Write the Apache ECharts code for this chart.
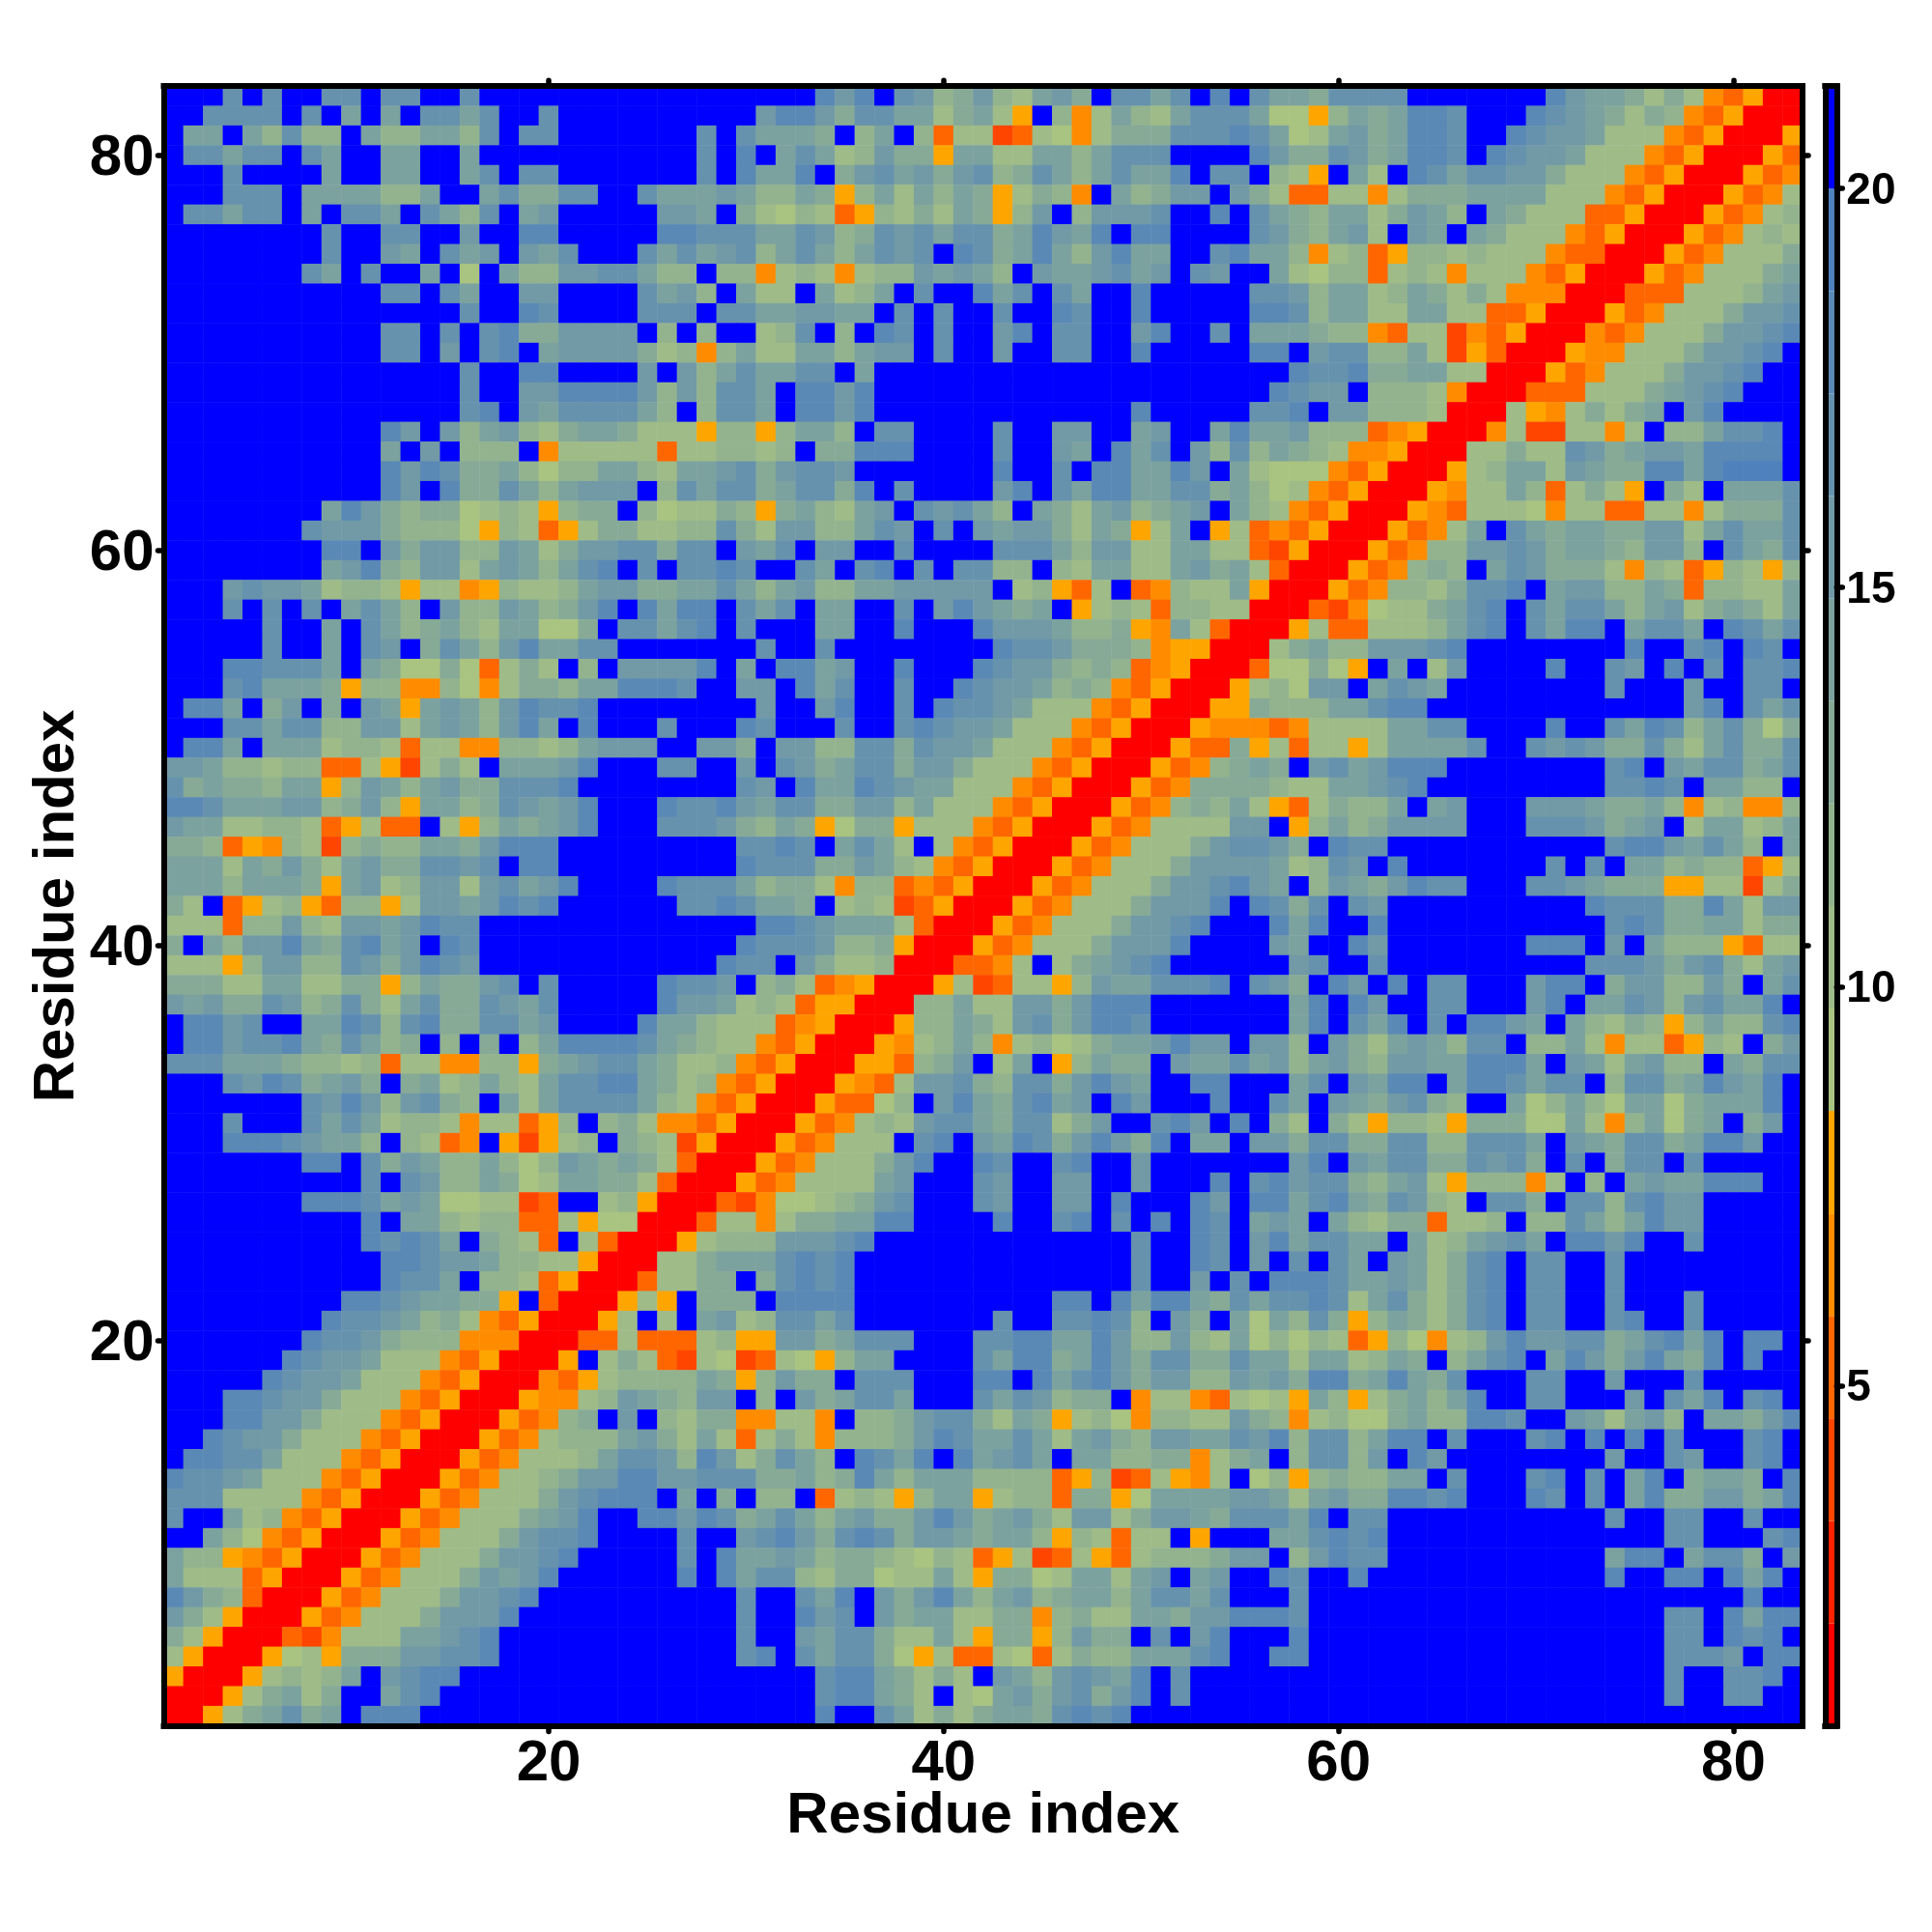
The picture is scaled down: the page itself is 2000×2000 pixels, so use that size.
<!DOCTYPE html>
<html><head><meta charset="utf-8">
<style>html,body{margin:0;padding:0;background:#fff}#c{width:2000px;height:2000px}</style>
<script src="https://cdn.jsdelivr.net/npm/echarts@6/dist/echarts.min.js"></script>
</head><body><div id="c"></div>
<script>
// Cell readings per row, top row (residue 83) first. Letter = colour band, a number repeats the letter.
const rowsLeft = ["BBBgBgBBggBggBBgB12","BBggggBgBeBeBggegBBgB8","BeeBecgccBecceecgBggB7g","BggeggBgeBBeeBBeB11g","BBBgBBBBeBBeeBBegBggB7g","BBBgggBeeeecceBBegddggBBgeee","BggeggBeBggeBgecgBefB5ffe","B8gBBggBBfBBhhB5hhg","B8gBBfeBgefBfegBBBgege","B7geBgBBeBaBeccffggeccB","B11ggBgeBBffBBBBgefc","B15gBBhgBBBBgggB","B11ggBgBghddffffBcBc","B11ggBfBghBeffffdbcn","B15gBBhhBBBBfBfc","B15gBBffhhhhfcfc","B15ghBfeggggecBc","B11hfBfcefcbdeedbbby","B11eBfBcccBnbbbbbobb","B11hfhgddecacceecbee","B11hfBhddgecefffBcge","B8ehfdcddabcbycddBcabb","B7gfffdcccaycboybddbbcc","B8hhBfdffccfebdffggdgg","B8efhdcffbefeceghBgBgg","BBBfgffebccbybbnycbbceffddee","BBBgBgBgBegecBfccfecdfhBhehh","BBBBBgBBeBgecdecbeeaadBggegh","BBBBBgBBeBgfBdgecfheeggBBBBB","BBBhhgggeBedaadaobdbBcBffffh","BBBgheeedyccnncanbddceehhhgB","BhheBdfBdBfeyefecfhgghBBBBBB","BBBggeggccffbefecfheBhBBBgBB","BhheBeeebccbobbnnccbcefffBBf","ffeccbccoobytbdbBeeefhBBBggB","gdeddceeycfecefddggghB7","hhgeeeffcdfcyeecdgfefhBBBhgg","feebbccboybooBbycedefhBBBggg","ddcoyncbtcdcceedfhhhB8","eeebedfdbefddggfgBhhB8","eeeceeedyefbcffbfgefhBBBBhgg","dbBoybcyoccybffefhghB6gg","bbboccfcbffefhggB12","dBecffhedghefBhgB12","bbbycffccgfdfhgfB12","dddbbeebbddyceddfgBgB5hgg","fefddgfcdgdbegddgfegB5hff","BhhfgBBeehgcghddggefBBBBheec","BhhfgghedgecdBcBdBcehhhhgedc","gggeeedccbcobbnnccydefggedbb","BBBgfhgdefdBdebcecbegghhedbc","B7gfhfcfgdcBebeggggecbn","BBBgBBBgegebccbnbboycBcdbnno","BBBhhhgfeecBcbonBytybcBdcbty","B7hhBgdfeccecacfededboR","B10gBgfccedabeeddboRR","B7hhhgefeaabbtoBBbcyRRR","B10hBeecbccoobyaaRRRo","B10hghgeBdcboBboRRRyb","B11hhgffeccbbyRRRbbd","B11hggeBccboyRRRobbd","B9hhgfeeddyBoRRRybyBd","B8hggfecdbnoyRRRybBbBe","B7hggfdcccnnnRRRoobooob","B6hgffebbbnoyRRRyBbdbotb","B5hgffebbbnoyRRRnoybcccce","BBBhhgffdbbbnoyRRRynnbcfedcf","BBBhhffdbbbnoyRRRyoncdBfBcbd","BBhgffdbbbnoyRRRyonbcccefdbe","BhhggebbbnoyRRRyonbbbceggfch","hggfebbbnoyRRRyonbbcdffhhffg","gggbbbbnoyRRRyonbbbdfghhhBeB","gBBebcnoyRRRyonbbbdefhBBhhfh","BBecanoyRRRyonbbbdfgghBBBBgB","eccynoyRRRyonbbbdffghBBBBBgB","ebbboyRRRyonbbbdfefhB6hB","hfdcoRRRyonbbbdffghB9","fdbyRRRyonbbbdfffhB10","dbyRRRotnbbbeefghB11","byRRRyabydddffgghB11","yRRRybcbceBfghhB13","RRRybdebdBBeghB14","RRybdegdeBhhhB15"];
const rowsMiddle = ["BBBBBhfhBgfcdfcbefdBggegBhBg","BBfhhfdggeebdebyBcnbecbeggge","BgeeedBceBcobbtobanbdddggghg","BhBegebcfddyeebbeecegggBBBBh","BheehBdfgefdfgcdgecegeehBggB","feccedycebecedybdcnBecdffBfd","BdbacboycbdbedycfBcfffgBBhBg","ggeegfcdgfgeggdehfehBhhBBBBg","fgcegecegfgBhgdehecfheeBBghe","ccnbcbnbccfefecBfeefgefBgfBB","BebbBebceBgBBhegBgeBBhB5g","ggeeffeeBgBgBBgBBhgBBhB5h","BBbcgBcBhgBgBBfhBggBBfhBBgBe","cebbeeceffBgBBfBBggBBhB5h","egeeggBeB20","ggeBhhfhB20","ggeBhhfhB13hB5g","ccyceecBggBBBBgBBffBBefBBehe","ccbcBddhhhBBBBgBBfeBhegBfcgc","fgdfggfB7hBBgBhheehfBeb","ggdeggdhBgBBBBfhBgehheeggdec","dcydecbefBgfgecBedbefcdefBec","gdbffccegfBgBfeffdbedybeBybo","BfegBffBBgBBBBgggecffbbeebbo","hgBBgeBghBgBggccBcbeebbefdeb","gecefcceefffffBbcyobBoncbbey","BgegBeeBBgBfhfedeBybcboccbbR","BgBBBeeBBhBBBhfffeccdyneboRR","BBgBBgB8hggfdddcnyyRRR","BeBhhefBBhBBBhgffdcdconyRRRo","BffBhegBBgBBhgffecdcnoyRRRyb","BBfBBfhBBgBhggfebbbnoyRRRyyd","BhgBBBgBBghgffebbbnoyRRRynnn","fdBffccggdgffebbbnoyRRRyoody","BfBgfdeggdffdbbbnoyRRRyoncde","BgfBheehgfeebbbnoyRRRyondddd","hfeggddffcebbbnoyRRRyoncdceb","fdcedyaddybbbnoyRRRyonbbbbff","BgghgBegebBbnoyRRRyonbbbdfgg","BhgggddfecbnoyRRRyonbbbdffff","gecddbncconoyRRRyonbbbdffghf","hgeedBbcbtoyRRRyonbbbdfffhBh","BBhhgfeeeboRRRyonbbbdffghBBB","BhgggfccdyRRRyonbbbdfffhBBBB","hggBfdbbcRRRoonbBbdefghBBBBB","fBcdbonyRRRybtobbycfeeggghBg","ebcboyyRRRccebbffdfhhhBBBBBB","bbbonyRRRyccedbfgdfhhgBBBBBB","bbnoyRRRynbcecnbcabdeefhffBf","cnoyRRRyyocdfBbeByceddBfeege","noyRRRynobffgdcggdfhfeBBhhBB","oyRRRyooacBfhedghefBhfBBBhBB","yRRRyonbcbfggedggbdfBBghfBhB","RRRyonbbbBghBfehgdfhfdhBeeBf","RRyonbbbdfhBBhgBBghBBfB6","RyonbbbbefBBBgfBBffBBfBBBhBg","otnaabcdfgBBBgfBBffBhBBBhfBh","bbnbddeehhBBBBhBBghBgBhBhgBe","cccfffghB13gBBhgBf","eeeghghB14gBBhgBf","dBdghghB14gBBfBgB","ddBhhhhB10hhBhehhedge","fbcggegB7gBBgghgcBfdBea","cyyffdegggBBBgghheehfccfcbea","atobayceeBBBBgehhdehfdggddge","dycfddBgggBBBhhBheghfdffccfe","fBcBfdeggeBBBgegfcddBnbbnoba","dnnbbnBccdfggdbedybcanccbbfd","bobdbncccdfhgeegebefdcffeegf","fbdgecBhgehBhefgeBeeccddnbde","ggddecdheceeeccccoyctobynbBa","dBccBobcbyceeybccoddyaeeeeff","gdegecefddfhfdefdbffbdffedgg","BfghfdghgdffedeecycbobbByBBB","heefecddcbacboybtobyobcccdff","heggcbddabbebyddabeebefBefBB","BgBBgehBfdfhecefcdeeceggegBB","BgBBhfgBfdeebbddncdbbeedffhh","BgBBfeggdbbebyddycfddBgBfhBB","BghBgeggdayboobaobdcceeeghBB","BBBBBghhedbdbBfecfgfehBgBBBB","BBBBBghhedbBbaefdfgdfhBgBBBB","BBBBBhBBgebdbdeedghghB7"];
const rowsRight = ["eedggggB7hfeedbdbnoyRR","aaycedehhgBBBhgfedbdcnoyRRR","eabefdehhgBBhgffebbbnoyRRRy","fddgfdehhgBhgffebbbnoyRRRyo","cbyBebBhgeggffdbbbnoyRRRyon","boobbnbdddeeeebbbnoyRRRyonb","edceebdfecBedbbbooyRRRyonbc","fdcefbBfeBedbbbnoyRRRyonbcb","ecnbcoyccbcbbbnooRRRyonbbbd","ebaccobcbnbbbnoyRRRyonbbbde","gfceebcedbdbnnnRRRooobbbcef","hgceebbeebbooyRRRyonbbbdffg","eedccnobbtnoyRRRnonbbbdffgh","hBfggccebtyoRRRynnbbbdffghB","BhgghddeebbRRRyonbbbdffghBB","hgffBcccbnRRRooobbbdefghBBB","ghBffcccbRRRbynbdbdeBfhBBBB","efccconyRRRnbttbbnbBccegghB","edcbnnyRRRbbdbbgfdeffehhhhB","aaanoyRRRybceebfeddhhehiiiB","abnoyRRRynbbecobdbyBdbBeeeg","bnoyRRRynobbbanbboobbnbdddg","noyRRRyonbeBgedeeddffbegeeg","tyRRRyonccffgfdeedcffcBgedg","oRRRyoncdcBegfdddbncboycbyc","RRRyonccbdgghBeffccedoccbbe","RRotnabbdeghBgeggecefbdedbe","RyboobbbceghBgehhBeggeBhgeg","bdeccfffghB8hBBghBhgB","aadayBeBbfBBBBhBBgfBhBgBggh","caffBegfeB8gBBBfBBggB","ccceeghhB13fhBgeg","onbbbbeeggBBBBhBBgehgcegdad","bobbybeeeegBBgfgfddgdbegddg","dBfgefhhhB8ghBfeggdeg","cbbeefghB9gghgBeeccB","yobdcceBefBBBfffeddecnbcnnc","BycecdffffBBBgggfdefBbeebce","fdBhggB11ghhfegecBe","ebcgfBhB7gBgBeecdccoyb","eBcfedfhggBBBggfedddyybbtbd","gdgBgfB10hgggddhebff","hehBBhB11ghgddeebdd","feBBhfB7hhhBfBecccyobb","BfgBBgB10gggfdfgdbef","fdBhfBhBggBBBfhhBdffccfdBeg","BehBhfBBggBBBfhBeegfcfgeehB","BehBgehBgBhhfeBecbdcyceccgh","fcBfdbefecggBccebnbboycbBdf","fcefdcffeehhheBfebefccBedgg","BegBfehhBehhgeggBcggdehfehB","geBfedfgdcBBeacecaeeadeeehB","dbBdbyccbydddaaebnceadeBdfB","fdggddggccgggeBfedggdehhfBB","BfhBfeggddgfgdBgBdggBgB5","hfggdcefbycccnbBcBefeehhhBB","heghedgfcbBggdBggcghffB5","feBecbddobbcBccgecehffB5","heggeeBebcefgeBhhfhBBgB5","BgBgeBfebdghBggBBgB9","hhhgeefebdghBggBBgB9","gghgbegdbdghBggBBgBBBgB5","ecgdycedbdghBggBBghBBgB5","cacboycanbcfhffggdeghehBhhB","ebeebcedBceghBehfdfhedhBhBB","fdhhdehedgBBBggBBfBBBgB5","byecybdecehBBggBBBfBgehBghB","cnbcaadecchhgBBfebefcBeedfh","hcggcehhBgBBBghBhBhBgBBBghB","BcggcfBhfB8fBBgfBBghB","cycdcceeBgBBBghBgBehBdeedBh","ebefddhhghBBBhgBgBehddffdeh","gehBggB11gBBggBBgBB","eeghghB14ggBBBgh","BcfhggB11ehhBeggdBf","hgBBhB12hBBhhBhehB","BgB22hBB","hgB18ggBhehh","BhB18ggBhghB","hhB18gggfBhh","B20gBBgghB","B20gBBggBB","B27"];
const bandOrder = "Rrtonyabcdefghi" + "B";
const bandColors = ["#FF0000","#FF2200","#FF4500","#FF6600","#FF8C00","#FFA500","#A9C380","#9EBB88","#93B38F","#87AA97","#7CA29F","#719AA6","#6692AE","#5A89B5","#4F81BD","#0000FF"];
const scaleMin = 0.74, scaleMax = 21.28;
const residues = Array.from({length:83},(_,i)=>String(i+1));
const axisTicks = [20,40,60,80];
const barTicks = [5,10,15,20];
const axisTitle = "Residue index";

const step = (scaleMax-scaleMin)/bandColors.length;
const expand = s => s.replace(/([A-Za-z])(\d+)/g,(m,c,n)=>c.repeat(+n));
const lefts = rowsLeft.map(expand), mids = rowsMiddle.map(expand), rights = rowsRight.map(expand);
const data = [];
lefts.forEach((s,i)=>{
  const row = s + mids[i] + rights[i];
  for(let x=0;x<83;x++){
    const band = bandOrder.indexOf(row[x]||'B');
    data.push([x,82-i,+(scaleMin+(band+0.5)*step).toFixed(2)]);
  }
});
const pieces = bandColors.map((color,i)=>({gte:scaleMin+i*step,lt:scaleMin+(i+1)*step,color}));
const font = {color:'#000',fontFamily:'"Liberation Sans"',fontWeight:'bold'};
const lineStyle = {color:'#000',width:6,cap:'square'};
const tickStyle = {length:6,lineStyle:{color:'#000',width:5.5,cap:'round'}};
const isTick = (i,v)=>axisTicks.includes(+v);
const lowered = (size,drop)=>({formatter:v=>`{a|${v}}`,rich:{a:Object.assign({fontSize:size,padding:[drop,0,0,0]},font)}});
const catAxis = (position,labelled,title,extra,labelExtra)=>Object.assign({
  type:'category',data:residues,gridIndex:0,position,z:5,
  axisLine:{show:true,onZero:false,lineStyle},
  axisTick:Object.assign({show:true,alignWithLabel:true,interval:isTick},tickStyle),
  axisLabel:Object.assign({show:labelled,interval:isTick,fontSize:60,margin:10},font,labelExtra||{}),
  splitLine:{show:false},splitArea:{show:false}
},title?{name:axisTitle,nameLocation:'middle',nameMoveOverlap:false,nameTextStyle:Object.assign({fontSize:60},font)}:{},extra||{});
const barY = (position,labelled)=>({
  type:'value',gridIndex:1,position,min:scaleMin,max:scaleMax,z:5,
  axisLine:{show:true,onZero:false,lineStyle},
  axisTick:Object.assign({show:labelled,customValues:barTicks},tickStyle),
  axisLabel:Object.assign({show:labelled,customValues:barTicks,fontSize:46,margin:10},font,lowered(46,6)),
  splitLine:{show:false}
});
const barX = position=>({
  type:'category',data:['scale'],gridIndex:1,position,z:5,
  axisLine:{show:true,onZero:false,lineStyle},axisTick:{show:false},axisLabel:{show:false},splitLine:{show:false}
});
const chart = echarts.init(document.getElementById('c'),null,{renderer:'canvas',width:2000,height:2000});
chart.setOption({
  animation:false,backgroundColor:'#fff',
  grid:[
    {left:169.5,top:89.2,width:1696.5,height:1697.4,containLabel:false},
    {left:1889.3,top:89.2,width:12,height:1697.4,containLabel:false}
  ],
  xAxis:[catAxis('bottom',true,true,{nameGap:64}),catAxis('top',false,false),barX('bottom'),barX('top')],
  yAxis:[catAxis('left',true,true,{nameGap:80,nameRotate:90},lowered(60,8)),catAxis('right',false,false),barY('left',false),barY('right',true)],
  visualMap:{show:false,type:'piecewise',dimension:2,seriesIndex:0,pieces},
  series:[
    {type:'heatmap',xAxisIndex:0,yAxisIndex:0,data,progressive:0,emphasis:{disabled:true},itemStyle:{borderWidth:0}},
    ...bandColors.map((color,i)=>({
      type:'bar',xAxisIndex:2,yAxisIndex:2,stack:'scale',barWidth:'100%',silent:true,
      itemStyle:{color},data:[i===0?scaleMin+step:step]
    }))
  ]
});
</script></body></html>
